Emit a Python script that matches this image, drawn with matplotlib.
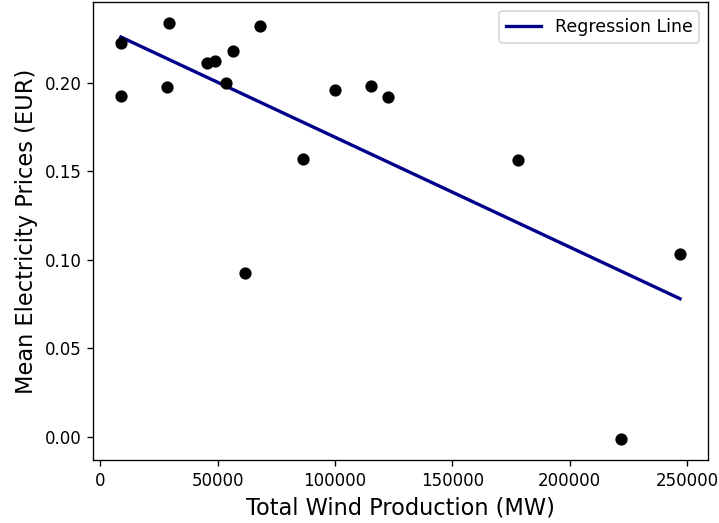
import numpy as np
import matplotlib
matplotlib.use("Agg")
import matplotlib.pyplot as plt

wind = [8830, 8830, 28280, 29140, 45350, 49060, 53620, 56740, 61730, 67960,
        86600, 99820, 115180, 122730, 177770, 221830, 247000]
price = [0.1927, 0.2227, 0.1977, 0.2340, 0.2111, 0.2124, 0.2000, 0.2180, 0.0926, 0.2321,
         0.1572, 0.1962, 0.1985, 0.1921, 0.1562, -0.0013, 0.1031]
xticks = [0, 50000, 100000, 150000, 200000, 250000]
yticks = [0.00, 0.05, 0.10, 0.15, 0.20]

x = np.array(wind, dtype=float)
y = np.array(price)
slope, intercept = np.polyfit(x, y, 1)
xs = np.sort(x)

DPI = 120
fig = plt.figure(figsize=(719 / DPI, 523 / DPI), dpi=DPI)
ax = fig.add_axes([0.1293, 0.1205, 0.8554, 0.8757])
ax.scatter(x, y, color="black", s=40, zorder=3)
ax.plot(xs, slope * xs + intercept, color="darkblue", linewidth=2, label="Regression Line")
ax.set_xlabel("Total Wind Production (MW)", fontsize=13.5)
ax.set_ylabel("Mean Electricity Prices (EUR)", fontsize=13.5)
ax.set_xticks(xticks)
ax.set_yticks(yticks)
ax.tick_params(labelsize=10)
ax.legend(loc="upper right", fontsize=10.4)
fig.savefig("out.png", dpi=DPI)
